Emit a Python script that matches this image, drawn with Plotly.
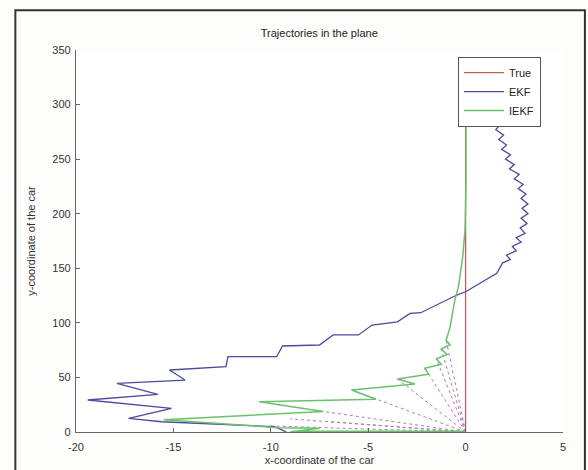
import plotly.graph_objects as go

# ---------------- data ----------------
true_x = [0.0, 0.0]
true_y = [0.0, 330.0]

ekf_x = [-9.2, -9.8, -15.6, -17.3, -15.1, -19.4, -15.8, -17.9, -14.4, -15.2, -12.3, -12.2,
         -9.7, -9.4, -7.5, -6.8, -5.5, -4.8, -3.5, -2.85, -2.3, -1.3, -0.45, 0.0, 0.75, 1.6,
         1.9, 2.3, 2.1, 2.6, 2.4, 2.85, 2.6, 3.05, 2.8, 3.15, 2.85, 3.2, 2.9, 3.2, 2.85, 3.1,
         2.7, 2.95, 2.5, 2.75, 2.25, 2.5, 2.05, 2.3, 1.85, 2.1, 1.7, 1.95, 1.55, 1.75, 1.45,
         1.3, 1.1]
ekf_y = [0.0, 4.8, 9.4, 12.5, 21.7, 29.3, 34.5, 44.6, 47.6, 56.8, 59.8, 69.0,
         69.0, 78.8, 79.7, 88.9, 88.9, 98.0, 101.0, 108.7, 109.3, 117.9, 125.5, 128.5, 136.2, 145.4,
         155, 158, 162, 166, 170, 174, 178, 182, 187, 191, 196, 200, 205, 209, 214, 218,
         223, 227, 232, 236, 241, 245, 250, 254, 259, 263, 268, 272, 277, 281, 285,
         300, 320]

iekf_x = [0.0, -8.8, -9.0, -7.5, -9.6, -15.5, -7.3, -10.6, -4.6, -5.85, -2.6, -3.5, -1.9,
          -2.1, -1.25, -1.5, -0.95, -1.25, -0.8, -1.0, -0.8, -0.55, -0.37, -0.15, -0.03,
          0.02, 0.02]
iekf_y = [0.8, 0.8, 0.0, 3.4, 4.0, 11.3, 18.8, 27.8, 30.0, 38.5, 44.0, 48.5, 53.0,
          58.5, 62.0, 67.0, 71.0, 76.0, 80.0, 84.0, 96.0, 121.0, 133.0, 160.0, 185.0,
          230.0, 330.0]

# measurement rays from the origin
ray_x = [-10.0, -9.0, -7.3, -6.9, -5.85, -3.5, -2.1, -1.5, -1.25, -1.0]
ray_y = [5.5, 12.0, 18.8, 9.4, 38.5, 48.5, 58.5, 67.0, 76.0, 84.0]

x_ticks = [-20, -15, -10, -5, 0, 5]
y_ticks = [0, 50, 100, 150, 200, 250, 300, 350]

# ---------------- figure ----------------
FONT = "Liberation Sans, Arial, sans-serif"
fig = go.Figure()

rx, ry = [], []
for xx, yy in zip(ray_x, ray_y):
    rx += [0.0, xx, None]
    ry += [0.0, yy, None]
fig.add_trace(go.Scatter(x=rx, y=ry, mode="lines", showlegend=False,
                         line=dict(color="#B878B0", width=1, dash="dot"), hoverinfo="skip"))

fig.add_trace(go.Scatter(x=true_x, y=true_y, mode="lines", name="True",
                         line=dict(color="#B86060", width=1.3)))
fig.add_trace(go.Scatter(x=ekf_x, y=ekf_y, mode="lines", name="EKF",
                         line=dict(color="#4A4A9E", width=1.3)))
fig.add_trace(go.Scatter(x=iekf_x, y=iekf_y, mode="lines", name="IEKF",
                         line=dict(color="#6CC06C", width=1.5)))

axis_common = dict(showline=True, linecolor="#666666", linewidth=1.2, mirror=False,
                   ticks="inside", ticklen=4, tickcolor="#666666", showgrid=False,
                   zeroline=False, automargin=False,
                   tickfont=dict(family=FONT, size=11, color="#333333"))

fig.update_xaxes(range=[-20, 5], tickvals=x_ticks, ticktext=[str(v) for v in x_ticks],
                 ticklabelstandoff=5,
                 title=dict(text="x-coordinate of the car", font=dict(family=FONT, size=11, color="#333333"),
                            standoff=4),
                 **axis_common)
fig.update_yaxes(range=[0, 350], tickvals=y_ticks, ticktext=[str(v) for v in y_ticks],
                 ticklabelstandoff=2,
                 title=dict(text="y-coordinate of the car", font=dict(family=FONT, size=11, color="#333333"),
                            standoff=14),
                 **axis_common)

fig.update_layout(
    width=588, height=470,
    margin=dict(l=76, r=25, t=50, b=38),
    paper_bgcolor="#FDFDFB", plot_bgcolor="#FFFFFF",
    title=dict(text="Trajectories in the plane", x=0.543, xanchor="center", y=0.93, yanchor="middle",
               font=dict(family=FONT, size=11, color="#222222")),
    legend=dict(x=0.784, y=0.982, xanchor="left", yanchor="top",
                bgcolor="#FFFFFF", bordercolor="#555555", borderwidth=1.2,
                font=dict(family=FONT, size=11, color="#222222"),
                tracegroupgap=0, itemwidth=40),
    showlegend=True,
)

# outer frame of the figure window
fig.add_shape(type="rect", xref="paper", yref="paper",
              x0=-0.1245, x1=1.045, y0=-0.2, y1=1.1043,
              line=dict(color="#333333", width=2), fillcolor="rgba(0,0,0,0)", layer="above")

fig.write_html("out.html")
